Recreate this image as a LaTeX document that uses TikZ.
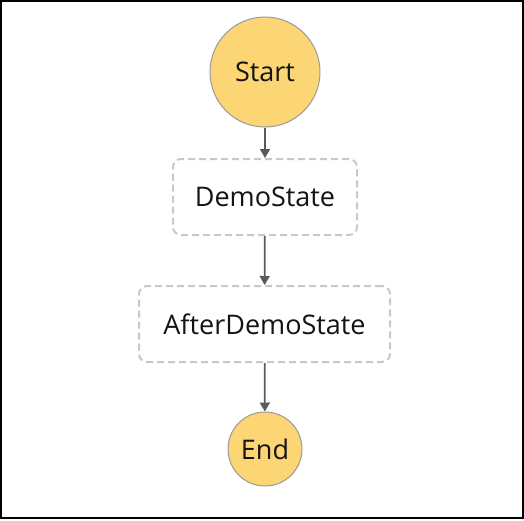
\documentclass[tikz,border=0pt]{standalone}
\usepackage{fontspec}
\setmainfont{Open Sans}
\usetikzlibrary{arrows.meta}
\definecolor{termfill}{HTML}{FCD574}
\definecolor{termline}{HTML}{9A9A9A}
\definecolor{boxline}{HTML}{C8C8C8}
\definecolor{arrowc}{HTML}{5A5A5A}
\definecolor{txt}{HTML}{141414}
\tikzset{
  terminal/.style={circle, fill=termfill, draw=termline, line width=1pt, inner sep=0pt, text=txt, font=\fontsize{27}{30}\selectfont},
  statebox/.style={rectangle, rounded corners=8pt, draw=boxline, line width=2pt, dash pattern=on 7pt off 4pt, text=txt, font=\fontsize{27}{30}\selectfont, inner sep=0pt},
  flow/.style={draw=arrowc, line width=1.7pt, -{Triangle[length=9pt,width=10pt]}}
}
\begin{document}
\begin{tikzpicture}[x=1pt,y=-1pt]
\useasboundingbox (0,0) rectangle (524,520);
\draw[black, line width=2pt] (1,1) rectangle (522.5,518);
\node[terminal, minimum size=110pt] (start) at (265,72) {Start};
\node[statebox, minimum width=184pt, minimum height=76pt] (demo) at (265,197) {DemoState};
\node[statebox, minimum width=251pt, minimum height=76pt] (after) at (264.5,324) {AfterDemoState};
\node[terminal, minimum size=74pt] (end) at (265,449) {End};
\draw[flow] (start) -- (demo);
\draw[flow] (demo) -- (after);
\draw[flow] (after) -- (end);
\end{tikzpicture}
\end{document}
